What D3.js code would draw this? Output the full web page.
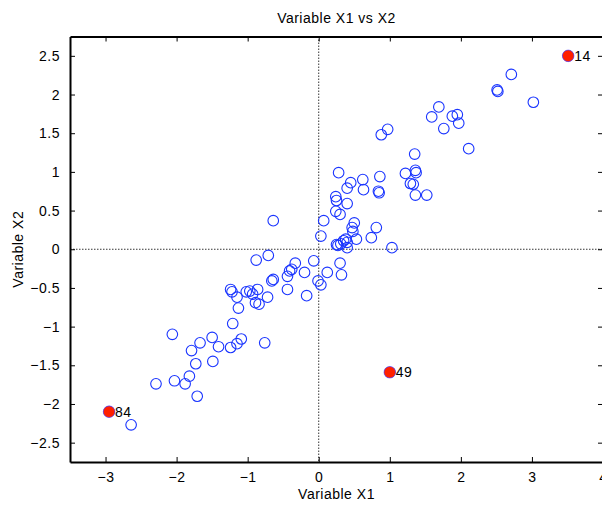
<!DOCTYPE html>
<html>
<head>
<meta charset="utf-8">
<script src="https://cdn.jsdelivr.net/npm/d3@7"></script>
<style>
  body { margin: 0; background: #fff; }
  text { font-family: "Liberation Sans", Helvetica, Arial, sans-serif; letter-spacing: 0.5px; }
</style>
</head>
<body>
<div id="chart"></div>
<script>
var x1 = [
  2.71, 2.51, 2.52, 3.02, 1.69, 1.59, 1.88, 1.95, 1.97, 1.76,
  0.97, 0.88, 2.11, 3.51, 1.35, 0.28, 0.45, 0.40, 0.62, 0.63,
  0.86, 0.84, 0.85, 1.22, 1.36, 1.37, 1.29, 1.33, 1.36, 1.52,
  0.24, 0.25, 0.40, 0.24, 0.30, 0.07, 0.50, 0.47, 0.48, 0.81,
  0.74, 0.03, 0.53, 0.38, 0.35, 0.40, 0.31, 0.25, 1.00, 0.27,
  0.40, 1.03, -0.07, 0.30, -0.20, 0.12, 0.32, -0.01, 0.03, -0.17,
  -0.64, -0.71, -0.88, -0.33, -0.38, -0.41, -0.44, -0.64, -0.66, -0.44,
  -1.24, -1.22, -1.15, -1.02, -0.97, -0.93, -0.86, -0.72, -1.13, -0.89,
  -0.84, -1.21, -2.06, -2.95, -1.50, -1.67, -1.41, -1.79, -1.24, -1.15,
  -1.09, -0.76, -1.49, -1.73, -2.29, -2.03, -1.82, -1.88, -1.71, -2.64
];
var x2 = [
  2.26, 2.06, 2.04, 1.90, 1.84, 1.71, 1.72, 1.74, 1.63, 1.56,
  1.55, 1.48, 1.30, 2.50, 1.23, 0.99, 0.86, 0.79, 0.90, 0.77,
  0.94, 0.75, 0.73, 0.98, 1.02, 0.99, 0.85, 0.84, 0.70, 0.70,
  0.68, 0.63, 0.59, 0.49, 0.45, 0.37, 0.34, 0.28, 0.23, 0.28,
  0.15, 0.17, 0.13, 0.13, 0.11, 0.09, 0.07, 0.06, -1.59, 0.05,
  0.02, 0.02, -0.15, -0.18, -0.30, -0.30, -0.33, -0.41, -0.46, -0.60,
  0.37, -0.08, -0.14, -0.18, -0.26, -0.28, -0.35, -0.39, -0.41, -0.52,
  -0.52, -0.55, -0.62, -0.55, -0.54, -0.58, -0.52, -0.62, -0.76, -0.69,
  -0.71, -0.96, -1.10, -2.10, -1.14, -1.21, -1.26, -1.31, -1.27, -1.22,
  -1.16, -1.21, -1.45, -1.48, -1.74, -1.70, -1.64, -1.74, -1.90, -2.27
];
var outliers = [14, 49, 84];
var xTicks = [-3, -2, -1, 0, 1, 2, 3, 4];
var yTicks = [-2.5, -2, -1.5, -1, -0.5, 0, 0.5, 1, 1.5, 2, 2.5];

var width = 602, height = 508;
var margin = {left: 70, right: -1, top: 36.5, bottom: 46};

var svg = d3.select("#chart").append("svg")
    .attr("width", width)
    .attr("height", height);

var xscale = d3.scaleLinear().domain([-3.5, 4]).range([margin.left, width - margin.right]);
var yscale = d3.scaleLinear().domain([-2.75, 2.75]).range([height - margin.bottom, margin.top]);

var x0 = xscale.range()[0], x1r = xscale.range()[1];
var y0 = yscale.range()[0], y1r = yscale.range()[1];

// zero lines
svg.append("line")
    .attr("x1", xscale(0)).attr("x2", xscale(0))
    .attr("y1", y1r).attr("y2", y0)
    .attr("stroke", "#000").attr("stroke-width", 0.8)
    .attr("stroke-dasharray", "1.5,1.5");
svg.append("line")
    .attr("x1", x0).attr("x2", x1r)
    .attr("y1", yscale(0)).attr("y2", yscale(0))
    .attr("stroke", "#000").attr("stroke-width", 0.8)
    .attr("stroke-dasharray", "1.5,1.5");

// axes, ticks pointing inward, on all four sides
var xAxis = d3.axisBottom(xscale).tickValues(xTicks).tickSizeInner(-5).tickSizeOuter(0).tickPadding(10);
var yAxis = d3.axisLeft(yscale).tickValues(yTicks).tickSizeInner(-5).tickSizeOuter(0).tickPadding(10).tickFormat(d3.format("~g"));
var xTop = d3.axisTop(xscale).tickValues(xTicks).tickSizeInner(-5).tickSizeOuter(0).tickFormat("");
var yRight = d3.axisRight(yscale).tickValues(yTicks).tickSizeInner(-5).tickSizeOuter(0).tickFormat("");

function styleAxis(g) {
    g.select(".domain").attr("stroke", "#000").attr("stroke-width", 2);
    g.selectAll(".tick line").attr("stroke", "#000").attr("stroke-width", 1);
    g.selectAll(".tick text").attr("fill", "#000").style("font-size", "14px");
}

svg.append("g").attr("transform", "translate(0," + y0 + ")").call(xAxis).call(styleAxis)
    .selectAll(".tick text").attr("dy", "0.71em");
svg.append("g").attr("transform", "translate(" + x0 + ",0)").call(yAxis).call(styleAxis);
svg.append("g").attr("transform", "translate(0," + y1r + ")").call(xTop).call(styleAxis);
svg.append("g").attr("transform", "translate(" + x1r + ",0)").call(yRight).call(styleAxis);

// points
var points = d3.range(x1.length).map(function (i) {
    return {id: i + 1, x: x1[i], y: x2[i]};
});

svg.append("g").selectAll("circle").data(points).enter()
    .append("circle")
    .attr("cx", function (d) { return xscale(d.x); })
    .attr("cy", function (d) { return yscale(d.y); })
    .attr("r", 5.3)
    .attr("fill", "none")
    .attr("stroke", "#1a35ff")
    .attr("stroke-width", 1.1);

var marked = points.filter(function (d) { return outliers.indexOf(d.id) >= 0; });
var hl = svg.append("g");
hl.selectAll("circle").data(marked).enter()
    .append("circle")
    .attr("cx", function (d) { return xscale(d.x); })
    .attr("cy", function (d) { return yscale(d.y); })
    .attr("r", 5.8)
    .attr("fill", "#ff2000")
    .attr("stroke", "#5a4cff")
    .attr("stroke-width", 0.6);
hl.selectAll("text").data(marked).enter()
    .append("text")
    .attr("x", function (d) { return xscale(d.x) + 6; })
    .attr("y", function (d) { return yscale(d.y); })
    .attr("dy", "0.36em")
    .style("font-size", "14px")
    .text(function (d) { return d.id; });

// titles
svg.append("text")
    .attr("x", (x0 + x1r) / 2).attr("y", 23)
    .attr("text-anchor", "middle")
    .style("font-size", "14px")
    .text("Variable X1 vs X2");
svg.append("text")
    .attr("x", (x0 + x1r) / 2).attr("y", 499)
    .attr("text-anchor", "middle")
    .style("font-size", "14px")
    .text("Variable X1");
svg.append("text")
    .attr("transform", "translate(23," + (y0 + y1r) / 2 + ") rotate(-90)")
    .attr("text-anchor", "middle")
    .style("font-size", "14px")
    .text("Variable X2");
</script>
</body>
</html>
